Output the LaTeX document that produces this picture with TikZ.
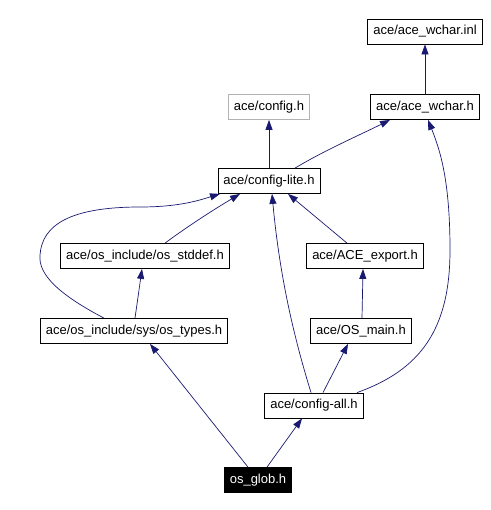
\documentclass[tikz,border=0pt]{standalone}
\usepackage{fontspec}
\setmainfont{Liberation Sans}
\usetikzlibrary{arrows.meta}
\definecolor{edgeblue}{RGB}{25,25,112}
\tikzset{
  hdr/.style={draw=black, fill=white, line width=0.8pt, minimum height=25pt, inner xsep=5.5pt, font=\fontsize{13}{15}\selectfont},
  hdrgray/.style={hdr, draw=gray!60},
  hdrmain/.style={hdr, fill=black, text=white},
  incl/.style={edgeblue, line width=0.7pt, -{Triangle[length=10pt,width=7pt]}}
}

\begin{document}
\begin{tikzpicture}[x=1pt, y=-1pt]
  \useasboundingbox (0,0) rectangle (490,510);

  % Top row
  \node[hdr] (inl) at (425, 31.5) {ace/ace\_wchar.inl};
  \node[hdr] (wchar) at (425, 107) {ace/ace\_wchar.h};
  \node[hdrgray] (cfg) at (269, 107) {ace/config.h};
  \node[hdr] (lite) at (269, 181) {ace/config-lite.h};

  % Middle rows
  \node[hdr] (stddef) at (145, 256) {ace/os\_include/os\_stddef.h};
  \node[hdr] (export) at (365, 256) {ace/ACE\_export.h};
  \node[hdr] (types) at (134, 331) {ace/os\_include/sys/os\_types.h};
  \node[hdr] (osmain) at (361, 331) {ace/OS\_main.h};
  \node[hdr] (all) at (314, 405.5) {ace/config-all.h};

  % The file itself
  \node[hdrmain] (glob) at (258, 480) {os\_glob.h};

  % Edges to the top row
  \draw[incl] (wchar) -- (inl);
  \draw[incl] (lite) -- (cfg);
  \draw[incl] ([xshift=26pt]lite.north) .. controls +(30,-18) and +(-30,15) .. ([xshift=-35pt]wchar.south);

  % Edges into config-lite
  \draw[incl] ([xshift=20pt]stddef.north) .. controls +(30,-22) and +(-20,12) .. ([xshift=-29pt]lite.south);
  \draw[incl] ([xshift=-30pt]types.north) .. controls (60,295) and (38,275) .. (40,255)
    .. controls (42,225) and (70,207) .. (140,207)
    .. controls (180,207) and (200,200) .. ([xshift=-49pt]lite.south);
  \draw[incl] ([xshift=-18pt]export.north) -- ([xshift=19pt]lite.south);
  \draw[incl] ([xshift=-3pt]all.north) .. controls +(-16,-52) and +(8,86) .. ([xshift=3pt]lite.south);

  % Lower edges
  \draw[incl] ([xshift=1pt]types.north) -- ([xshift=-3pt]stddef.south);
  \draw[incl] ([xshift=1pt]osmain.north) -- ([xshift=-2pt]export.south);
  \draw[incl] ([xshift=9pt]all.north) -- ([xshift=-13pt]osmain.south);
  \draw[incl] ([xshift=43pt]all.north) .. controls (420,370) and (450,330) .. (450,250)
    .. controls (450,180) and (440,150) .. ([xshift=3pt]wchar.south);
  \draw[incl] ([xshift=-10pt]glob.north) -- ([xshift=16pt]types.south);
  \draw[incl] ([xshift=9pt]glob.north) -- ([xshift=-12pt]all.south);
\end{tikzpicture}
\end{document}
